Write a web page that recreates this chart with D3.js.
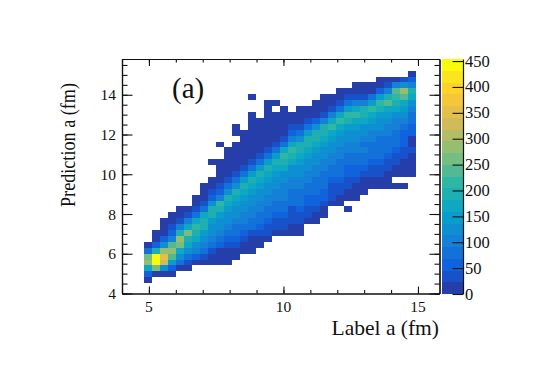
<!DOCTYPE html>
<html><head><meta charset="utf-8">
<script src="https://cdn.jsdelivr.net/npm/d3@7"></script>
<style>html,body{margin:0;padding:0;background:#fff}svg{display:block}text{font-family:"Liberation Serif",serif;fill:#111}</style>
</head><body><svg id="c" width="556" height="383"></svg>
<script>
const xTickValues=[5,10,15], yTickValues=[4,6,8,10,12,14], zTickValues=[0,50,100,150,200,250,300,350,400,450];
const xTitle="Label a (fm)", yTitle="Prediction a (fm)", panelLabel="(a)";
const binOriginX=4.82, binOriginY=4.52, binSize=0.297;
// first occupied row of each column
const colStart=[0,1,1,1,2,2,3,3,3,3,3,4,5,5,6,7,8,8,8,8,10,10,11,13,13,12,14,15,16,16,16,16,16,18];
// counts in each column from its first occupied row upward (0 = empty bin)
const colCounts=[
[10,50,170,290,270,70,15],
[15,260,450,440,190,60,20,10],
[10,120,335,350,280,120,50,20,10,5],
[10,60,150,240,290,230,110,60,25,15,5],
[15,80,130,170,250,280,190,100,40,15,5],
[15,40,90,130,170,200,250,180,100,25,8],
[10,60,100,130,160,190,220,180,80,30,10,5],
[10,25,70,100,120,150,190,200,170,90,40,15,8,4],
[10,15,40,70,100,120,135,155,185,200,130,60,30,15,8,0,0,5],
[8,12,20,50,80,100,115,130,150,195,215,110,50,25,12,7,5,3,0,0,3],
[5,10,15,30,60,80,100,115,130,150,175,190,120,70,35,15,8,5,3,3],
[8,12,25,50,70,90,100,115,125,145,170,195,130,70,35,15,8,4,3,2,0,2,2],
[8,15,40,60,80,95,105,115,125,140,170,190,140,80,40,18,8,5,3,2,2],
[5,10,20,45,70,85,95,105,115,125,145,170,190,150,85,40,18,8,5,3,3,2,2,2,0,0,2],
[8,15,30,55,75,85,95,105,115,125,145,175,190,140,75,35,15,7,4,3,2,2],
[10,25,40,60,75,90,100,105,115,125,145,170,195,150,80,40,18,8,5,3,3,2,2,2],
[15,30,45,65,80,90,100,105,115,130,150,170,200,150,85,40,18,8,4,3,2,0,2],
[10,25,35,55,75,85,95,100,110,120,135,160,190,205,160,85,40,15,7,4,2,2],
[8,15,25,35,45,70,85,90,100,110,115,130,160,190,220,170,110,55,25,10,4],
[5,15,25,45,60,75,85,90,100,105,115,130,150,175,195,200,130,70,30,12,5,2],
[15,25,40,55,65,75,85,95,100,115,125,150,170,190,200,140,75,30,10,3],
[8,20,30,50,60,70,80,90,95,105,115,130,150,170,195,190,120,55,20,6,2],
[15,20,35,50,55,70,80,90,95,105,115,130,150,175,200,185,110,45,15,5,2],
[15,30,35,45,65,80,90,95,105,115,130,150,175,205,170,100,40,12,3],
[8,15,25,40,55,70,80,90,100,110,120,135,155,180,210,160,90,35,10,3],
[3,0,8,15,25,35,50,65,80,90,95,105,115,130,150,185,210,150,70,25,6],
[8,12,20,30,50,65,80,90,95,105,115,125,140,170,225,180,100,40,12,3],
[8,12,20,40,55,75,85,95,90,110,120,135,165,200,195,110,45,15,4],
[10,15,35,45,60,80,90,85,95,110,125,145,180,205,150,70,20,5],
[8,15,25,40,55,70,90,85,85,100,115,135,155,190,215,140,60,15,3],
[5,10,20,30,40,55,85,70,85,95,105,125,145,170,240,190,95,30,6],
[5,0,10,15,25,35,50,70,70,80,95,110,130,165,195,215,245,100,15],
[3,0,8,12,20,30,40,60,65,65,85,100,125,145,180,240,290,130,25],
[8,8,12,15,35,20,20,60,65,70,85,100,130,160,200,110,50,15]
];
const birdStops=[0,.125,.25,.375,.5,.625,.75,.875,1];
const birdColors=["#352a87","#0f5cdd","#1481d6","#06a4ca","#2eb7a4","#87bf77","#d1bb59","#fec832","#f9fb0e"];
const zMax=454, nLevels=20;

const W=556,H=383;
const L=122,R=439.5,T=59,B=293.5;
const x=d3.scaleLinear().domain([4,15.8]).range([L,R]);
const y=d3.scaleLinear().domain([4,15.8]).range([B,T]);
const bird=d3.scaleLinear().domain(birdStops).range(birdColors).interpolate(d3.interpolateRgb);
const levels=d3.range(nLevels).map(i=>bird(Math.min(1,(i+0.99)/nLevels)));
const zColor=d3.scaleQuantize().domain([0,zMax]).range(levels);
const svg=d3.select("#c");

const cells=colCounts.flatMap((col,c)=>col.map((v,i)=>({c,r:colStart[c]+i,v}))).filter(d=>d.v>0);
svg.append("g").attr("shape-rendering","crispEdges").selectAll("rect").data(cells).join("rect")
 .attr("x",d=>x(binOriginX+d.c*binSize))
 .attr("width",d=>x(binOriginX+(d.c+1)*binSize)-x(binOriginX+d.c*binSize))
 .attr("y",d=>y(binOriginY+(d.r+1)*binSize))
 .attr("height",d=>y(binOriginY+d.r*binSize)-y(binOriginY+(d.r+1)*binSize))
 .attr("fill",d=>zColor(d.v));

function styleAxis(g){g.select(".domain").attr("stroke","#111").attr("stroke-width",1.2);
 g.selectAll("line").attr("stroke","#111").attr("stroke-width",1.1);}
const xMinor=d3.range(4,16), yMinor=d3.range(4,16,0.5);
const noLab=a=>a.tickFormat("").tickSizeOuter(0);
[[d3.axisBottom(x).tickValues(xMinor).tickSize(-3.5),B],[d3.axisBottom(x).tickValues(xTickValues).tickSize(-7),B],
 [d3.axisTop(x).tickValues(xMinor).tickSize(-3.5),T],[d3.axisTop(x).tickValues(xTickValues).tickSize(-7),T]]
 .forEach(([a,p])=>svg.append("g").attr("transform",`translate(0,${p})`).call(noLab(a)).call(styleAxis));
[[d3.axisLeft(y).tickValues(yMinor).tickSize(-5.5),L],[d3.axisLeft(y).tickValues(yTickValues).tickSize(-10.5),L],
 [d3.axisRight(y).tickValues(yMinor).tickSize(-5),R],[d3.axisRight(y).tickValues(yTickValues).tickSize(-10),R]]
 .forEach(([a,p])=>svg.append("g").attr("transform",`translate(${p},0)`).call(noLab(a)).call(styleAxis));

svg.selectAll(".xl").data(xTickValues).join("text").attr("x",d=>x(d)).attr("y",B+18).attr("text-anchor","middle").attr("font-size",15.5).text(d=>d);
svg.selectAll(".yl").data(yTickValues).join("text").attr("x",L-6).attr("y",d=>y(d)+5.5).attr("text-anchor","end").attr("font-size",15.5).text(d=>d);
svg.append("text").attr("x",439).attr("y",335).attr("text-anchor","end").attr("font-size",21.5).text(xTitle);
svg.append("text").attr("transform","translate(75,207) rotate(-90)").attr("font-size",21).attr("textLength",124).attr("lengthAdjust","spacingAndGlyphs").text(yTitle);
svg.append("text").attr("x",172).attr("y",98).attr("font-size",29).text(panelLabel);

// palette
const zY=d3.scaleLinear().domain([0,zMax]).range([294,59]);
const PX0=442,PX1=463;
svg.append("g").attr("shape-rendering","crispEdges").selectAll("rect").data(levels).join("rect")
 .attr("x",PX0).attr("width",PX1-PX0)
 .attr("y",(d,i)=>zY((i+1)*zMax/nLevels)).attr("height",(d,i)=>zY(i*zMax/nLevels)-zY((i+1)*zMax/nLevels)).attr("fill",d=>d);
svg.append("g").attr("transform",`translate(${PX1},0)`).call(d3.axisRight(zY).tickValues(zTickValues).tickSize(-10.5).tickFormat("").tickSizeOuter(0)).call(styleAxis);
svg.selectAll(".zl").data(zTickValues).join("text").attr("x",465).attr("y",d=>zY(d)+5.5).attr("font-size",16.5).text(d=>d);
</script></body></html>
